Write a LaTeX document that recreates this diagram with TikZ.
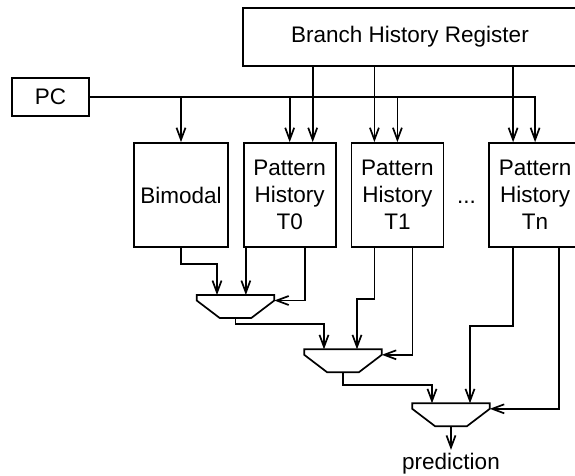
\documentclass[tikz,border=0pt]{standalone}
\usepackage{fontspec}
\setmainfont{Liberation Sans}
\usetikzlibrary{arrows.meta,positioning}

\begin{document}
\begin{tikzpicture}[
x=1pt,y=-1pt,line width=1.7pt,
font=\fontsize{22.5}{27}\selectfont,
box/.style={draw,align=center,minimum width=92pt,minimum height=104pt,inner sep=2pt},
arrow/.style={-{Straight Barb[length=12pt,width=9pt]}},
mux/.pic={
\draw[line join=miter] (-38.8,0) -- (38.8,0) -- (38.8,5.5) -- (15.8,23) -- (-15.8,23) -- (-38.8,5.5) -- cycle;
\coordinate (-top) at (0,0);
\coordinate (-right) at (38.8,5.5);
\coordinate (-out) at (0,23);
}
]
\useasboundingbox (0,0) rectangle (575,475);
\clip (0,0) rectangle (575,475);
\node[draw,minimum width=77pt,minimum height=38pt] (pc) at (50.5,97) {PC};
\node[draw,minimum width=334pt,minimum height=58pt] (bhr) at (410,37) {Branch History Register};
\node[box,minimum width=94pt] (bimodal) at (181,195) {Bimodal};
\node[box,right=14pt of bimodal] (t0) {Pattern\\History\\T0};
\node[box,right=14pt of t0] (t1) {Pattern\\History\\T1};
\node[box,right=44pt of t1] (tn) {Pattern\\History\\Tn};
\node[anchor=base] (dots) at (466.5,203) {...};
\pic (m1) at (235.5,295) {mux};
\pic (m2) at (343,349.3) {mux};
\pic (m3) at (451,403.3) {mux};
\node[inner sep=2pt,anchor=base] (pred) at (451,469) {prediction};
% PC bus and history register
\draw[arrow] (pc.east) -| (tn.north);
\draw[arrow] (pc.east -| bimodal.north) -- (bimodal.north);
\draw[arrow] (pc.east -| t0.north) -- (t0.north);
\draw[arrow] (pc.east -| t1.north) -- (t1.north);
\draw[arrow] ([xshift=23pt]t0.north |- bhr.south) -- ([xshift=23pt]t0.north);
\draw[arrow] ([xshift=-23pt]t1.north |- bhr.south) -- ([xshift=-23pt]t1.north);
\draw[arrow] ([xshift=-22pt]tn.north |- bhr.south) -- ([xshift=-22pt]tn.north);
% tables to muxes
\draw[arrow] (bimodal.south) -- ++(0,16) -| ([xshift=-18.5pt]m1-top);
\draw[arrow] ([xshift=3pt]t0.south west) -- ([xshift=3pt]t0.south west |- m1-top);
\draw[arrow] ([xshift=15pt]t0.south) |- (m1-right);
\draw[arrow] (m1-out) -- ++(0,6) -| ([xshift=-19pt]m2-top);
\draw[arrow] ([xshift=-23pt]t1.south) -- ++(0,51) -| ([xshift=14pt]m2-top);
\draw[arrow] ([xshift=15pt]t1.south) |- (m2-right);
\draw[arrow] (m2-out) -- ++(0,13) -| ([xshift=-19pt]m3-top);
\draw[arrow] ([xshift=-22pt]tn.south) -- ++(0,78) -| ([xshift=19pt]m3-top);
\draw[arrow] ([xshift=24pt]tn.south) |- (m3-right);
\draw[arrow] (m3-out) -- (pred.north);
\end{tikzpicture}
\end{document}
